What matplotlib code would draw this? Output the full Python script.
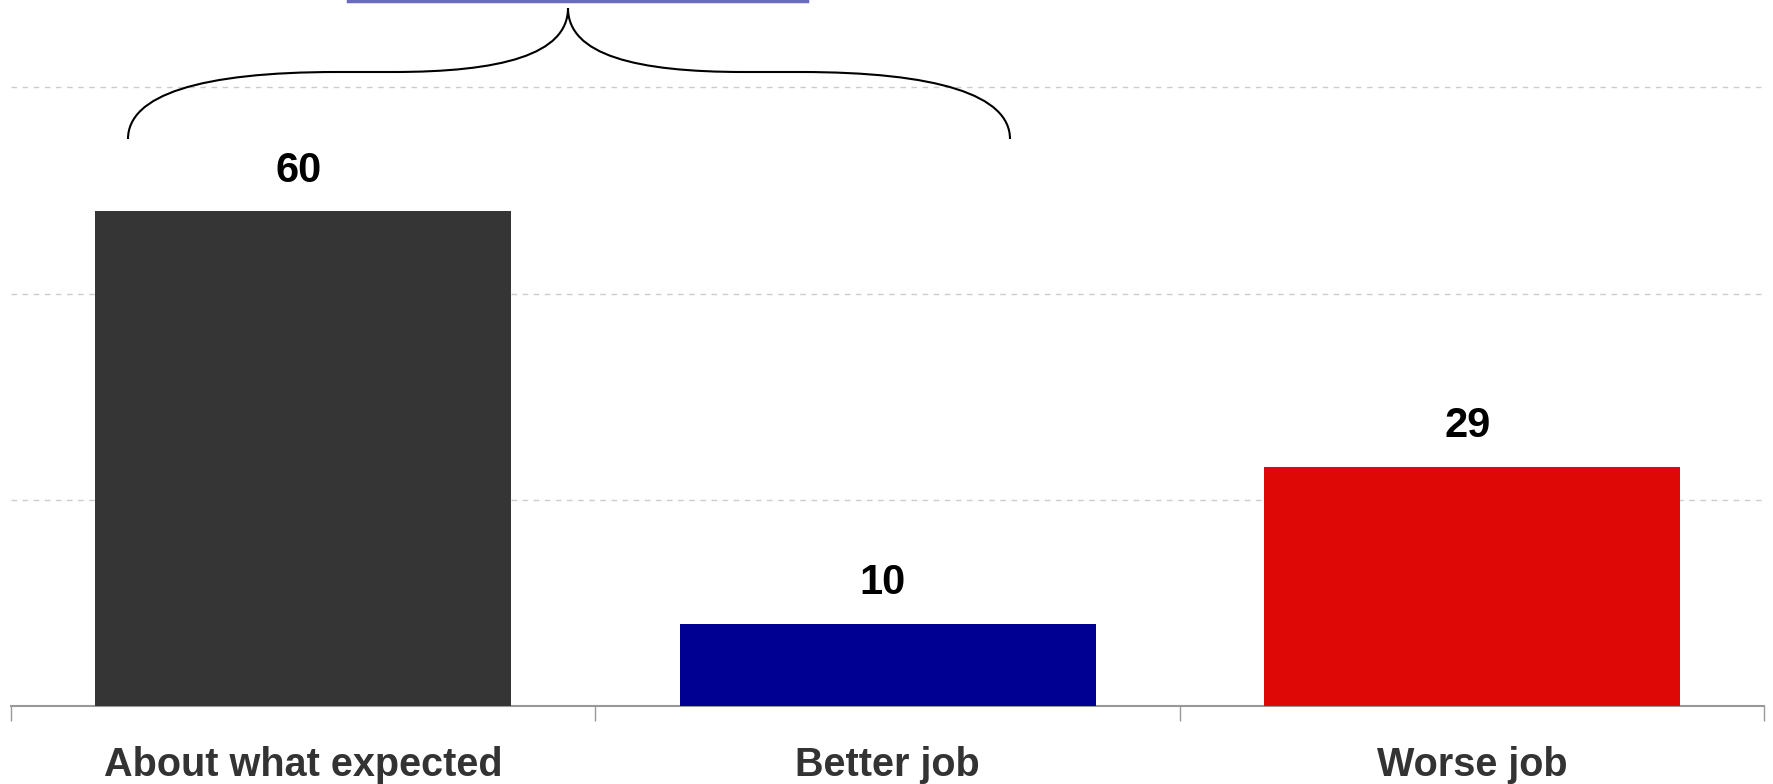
import matplotlib.pyplot as plt
from matplotlib.path import Path
from matplotlib.patches import PathPatch

plt.rcParams['font.family'] = ['Liberation Sans', 'DejaVu Sans']

categories = ['About what expected', 'Better job', 'Worse job']
values = [60, 10, 29]
colors = ['#353535', '#000092', '#de0806']

fig = plt.figure(figsize=(17.73, 7.84), dpi=100)
ax = fig.add_axes([0.0062, 0.0995, 0.9888, 0.9005])

x = range(len(categories))
bars = ax.bar(x, values, width=0.712, color=colors, zorder=3)
for xi, v in zip(x, values):
    ax.text(xi - 0.008, v + 2.5, str(v), ha='center', va='bottom',
            fontsize=30, fontweight='bold', color='black')

ax.set_xlim(-0.5, 2.5)
ax.set_ylim(0, 85.6)
ax.set_yticks([25, 50, 75])
ax.yaxis.grid(True, linestyle=(0, (4, 4)), color='#cccccc', linewidth=1, zorder=0)
ax.tick_params(axis='y', left=False, labelleft=False)

# category ticks at boundaries, labels in centres
ax.set_xticks([-0.5, 0.5, 1.5, 2.5])
ax.set_xticklabels([])
ax.set_xticks(list(x), minor=True)
ax.set_xticklabels(categories, minor=True, fontsize=28.5, fontweight='bold', color='#333333')
ax.tick_params(axis='x', which='major', length=11, color='#999999', width=1)
ax.tick_params(axis='x', which='minor', length=0, pad=29)

for s in ['top', 'left', 'right']:
    ax.spines[s].set_visible(False)
ax.spines['bottom'].set_color('#999999')
ax.spines['bottom'].set_linewidth(1.5)


# brace above the first two bars (drawn in pixel space)
def px(xp, yp):
    return (xp, 784 - yp)


verts = [px(128, 139), px(128, 95), px(200, 72), px(337, 72),
         px(393, 72),
         px(500, 72), px(568, 55), px(568, 8),
         px(568, 55), px(636, 72), px(744, 72),
         px(800, 72),
         px(937, 72), px(1010, 95), px(1010, 139)]
codes = [Path.MOVETO, Path.CURVE4, Path.CURVE4, Path.CURVE4,
         Path.LINETO,
         Path.CURVE4, Path.CURVE4, Path.CURVE4,
         Path.CURVE4, Path.CURVE4, Path.CURVE4,
         Path.LINETO,
         Path.CURVE4, Path.CURVE4, Path.CURVE4]
brace = PathPatch(Path(verts, codes), facecolor='none', edgecolor='black',
                  linewidth=1.5, transform=None, clip_on=False)
fig.add_artist(brace)
fig.add_artist(plt.Line2D([348 / 1773, 807 / 1773], [1 - 1 / 784, 1 - 1 / 784],
                          color='#6a6ac0', linewidth=2.5))

fig.savefig('out.png', dpi=100)
